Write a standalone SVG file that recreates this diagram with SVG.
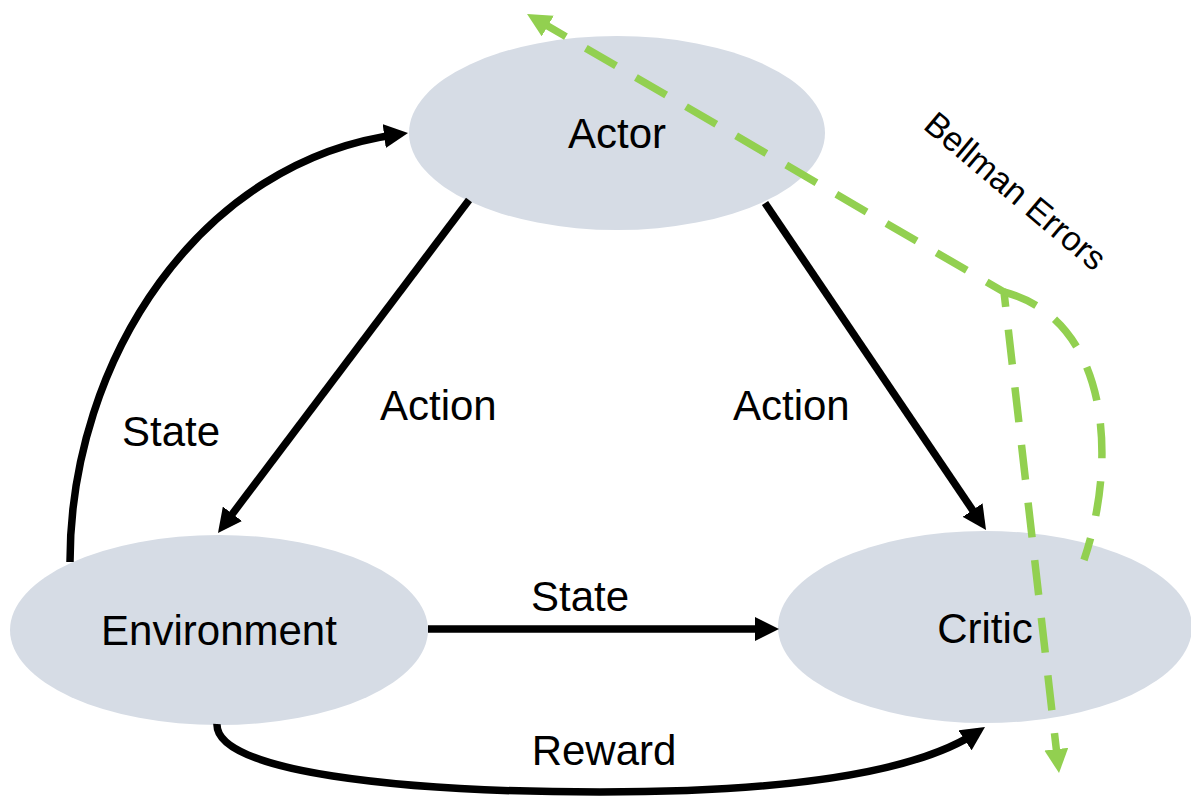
<svg xmlns="http://www.w3.org/2000/svg" width="1191" height="801" viewBox="0 0 1191 801">
  <style>
    .node { fill: #D6DCE5; }
    .label { font-family: "Liberation Sans", Arial, sans-serif; font-size: 42px; fill: #000; }
    .note { font-family: "Liberation Sans", Arial, sans-serif; font-size: 34px; fill: #000; }
    .flow { fill: none; stroke: #000; stroke-width: 7.5; }
    .err { fill: none; stroke: #92D050; stroke-width: 7.5; stroke-dasharray: 35 23; }
  </style>
  <defs>
    <marker id="arrow" markerUnits="userSpaceOnUse" markerWidth="24" markerHeight="24" refX="15" refY="12" orient="auto">
      <path d="M0,0 L24,12 L0,24 z" fill="#000"/>
    </marker>
    <marker id="arrow-green" markerUnits="userSpaceOnUse" markerWidth="24" markerHeight="24" refX="14" refY="12" orient="auto-start-reverse">
      <path d="M0,0 L24,12 L0,24 z" fill="#92D050"/>
    </marker>
  </defs>

  <rect width="1191" height="801" fill="#fff"/>

  <g id="actor">
    <ellipse class="node" cx="617" cy="133" rx="208" ry="97"/>
    <text class="label" x="617" y="148" text-anchor="middle">Actor</text>
  </g>

  <g id="environment">
    <ellipse class="node" cx="219" cy="630" rx="209" ry="95"/>
    <text class="label" x="219" y="645" text-anchor="middle">Environment</text>
  </g>

  <g id="critic">
    <ellipse class="node" cx="985" cy="627" rx="207" ry="96"/>
    <text class="label" x="985" y="643" text-anchor="middle">Critic</text>
  </g>

  <g id="connectors">
    <!-- Actor -> Environment -->
    <path class="flow" d="M469,200 L223.4,525.8" marker-end="url(#arrow)"/>
    <!-- Actor -> Critic -->
    <path class="flow" d="M765,203 L981,522.5" marker-end="url(#arrow)"/>
    <!-- Environment -> Actor (state) -->
    <path class="flow" d="M70,562 C70,360 200,160 399.1,134.2" marker-end="url(#arrow)"/>
    <!-- Environment -> Critic (state) -->
    <path class="flow" d="M428,629 L770,629" marker-end="url(#arrow)"/>
    <!-- Environment -> Critic (reward) -->
    <path class="flow" d="M217,724 C215,772 400,792 600,792 C800,792 920,770 977.5,732" marker-end="url(#arrow)"/>

    <!-- Bellman error feedback: back to the actor and on past the critic -->
    <path class="err" d="M535.7,19 L1004,292 L1057.9,763.1" marker-start="url(#arrow-green)" marker-end="url(#arrow-green)"/>
    <!-- branch looping down into the critic -->
    <path class="err" d="M1004,292 C1110,320 1118,460 1084,560"/>

    <text class="label" x="380" y="420">Action</text>
    <text class="label" x="733" y="420">Action</text>
    <text class="label" x="122" y="446">State</text>
    <text class="label" x="580" y="611" text-anchor="middle">State</text>
    <text class="label" x="604" y="765" text-anchor="middle">Reward</text>
    <text class="note" x="1008" y="200" text-anchor="middle" transform="rotate(40 1008 200)">Bellman Errors</text>
  </g>
</svg>
